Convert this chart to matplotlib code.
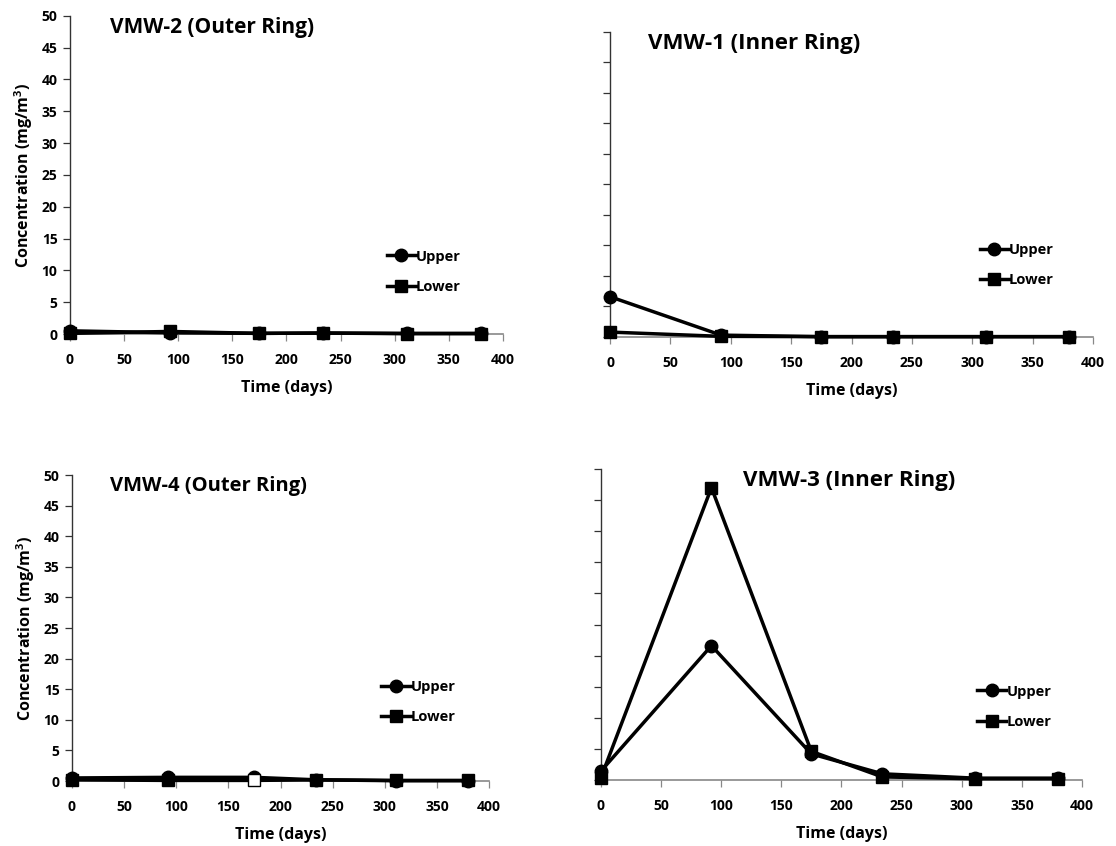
import matplotlib
matplotlib.use("Agg")
import matplotlib.pyplot as plt

plt.rcParams['font.family'] = ['Open Sans', 'DejaVu Sans']
plt.rcParams['font.weight'] = 'bold'

days = [0, 92, 175, 234, 311, 380]

vmw2_upper = [0.5, 0.2, 0.1, 0.15, 0.1, 0.1]
vmw2_lower = [0.1, 0.4, 0.1, 0.15, 0.05, 0.05]

vmw1_upper = [6.6, 0.3, 0.05, 0.05, 0.05, 0.05]
vmw1_lower = [0.8, 0.1, 0.05, 0.05, 0.05, 0.05]

vmw4_upper = [0.5, 0.6, 0.6, 0.2, 0.05, 0.05]
vmw4_lower = [0.2, 0.1, 0.1, 0.2, 0.1, 0.1]
vmw4_open = [False, False, True, False, False, False]

vmw3_upper = [1.4, 21.6, 4.2, 1.0, 0.3, 0.3]
vmw3_lower = [0.3, 47.0, 4.6, 0.5, 0.2, 0.2]

panels = [
    # title, upper, lower, open markers, axes rect, title pos, title size, legend pos, ylabels
    ("VMW-2 (Outer Ring)", vmw2_upper, vmw2_lower, None,
     [0.0627, 0.6052, 0.388, 0.3762], (0.093, 0.963), 15, (0.731, 0.196), True),
    ("VMW-1 (Inner Ring)", vmw1_upper, vmw1_lower, None,
     [0.5466, 0.6017, 0.4328, 0.3605], (0.079, 0.963), 16, (0.765, 0.236), False),
    ("VMW-4 (Outer Ring)", vmw4_upper, vmw4_lower, vmw4_open,
     [0.0645, 0.0768, 0.3737, 0.3617], (0.09, 0.963), 14.5, (0.742, 0.258), True),
    ("VMW-3 (Inner Ring)", vmw3_upper, vmw3_lower, None,
     [0.5383, 0.0780, 0.4313, 0.3676], (0.295, 0.963), 16, (0.782, 0.236), False),
]

fig = plt.figure(figsize=(11.16, 8.46), dpi=100)

for title, upper, lower, open_pts, rect, tpos, tsize, lpos, show_y in panels:
    ax = fig.add_axes(rect)
    ax.plot(days, upper, color='black', lw=2.5, marker='o', ms=9,
            mfc='black', mec='black', clip_on=False, zorder=3, label='Upper')
    if open_pts is None:
        ax.plot(days, lower, color='black', lw=2.5, marker='s', ms=9,
                mfc='black', mec='black', clip_on=False, zorder=4, label='Lower')
    else:
        filled = [i for i, o in enumerate(open_pts) if not o]
        ax.plot(days, lower, color='black', lw=2.5, marker='s', ms=9,
                mfc='black', mec='black', markevery=filled,
                clip_on=False, zorder=4, label='Lower')
        xo = [d for d, o in zip(days, open_pts) if o]
        yo = [v for v, o in zip(lower, open_pts) if o]
        ax.plot(xo, yo, ls='none', marker='s', ms=9, mfc='white',
                mec='black', mew=1.0, clip_on=False, zorder=5)

    ax.set_xlim(0, 400)
    ax.set_ylim(0, 50)
    ax.set_xticks(range(0, 401, 50))
    ax.set_yticks(range(0, 51, 5))
    for side in ('top', 'right'):
        ax.spines[side].set_visible(False)
    ax.spines['left'].set_color('#333333')
    ax.spines['bottom'].set_color('#888888')
    ax.spines['left'].set_linewidth(1.0)
    ax.spines['bottom'].set_linewidth(1.2)
    ax.tick_params(axis='both', direction='out', length=5, width=0.9,
                   labelsize=10, colors='black')
    ax.tick_params(axis='x', color='#888888', pad=9)
    ax.tick_params(axis='y', color='#333333', pad=4)
    for lab in ax.get_xticklabels() + ax.get_yticklabels():
        lab.set_fontweight('bold')

    ax.set_xlabel("Time (days)", fontsize=11.5, fontweight='bold', labelpad=9)
    if show_y:
        ax.set_ylabel("Concentration (mg/m$^\\mathregular{3}$)", fontsize=11.5,
                      fontweight='bold', labelpad=5)
    else:
        ax.set_yticklabels([])

    ax.text(tpos[0], tpos[1], title, transform=ax.transAxes, fontsize=tsize,
            fontweight='bold', ha='left', va='center')

    ax.legend(loc='center left', bbox_to_anchor=lpos, frameon=False,
              fontsize=10.5, handlelength=2.0, handletextpad=0.0,
              labelspacing=1.1, borderpad=0, borderaxespad=0)

fig.savefig("out.png", dpi=100)
